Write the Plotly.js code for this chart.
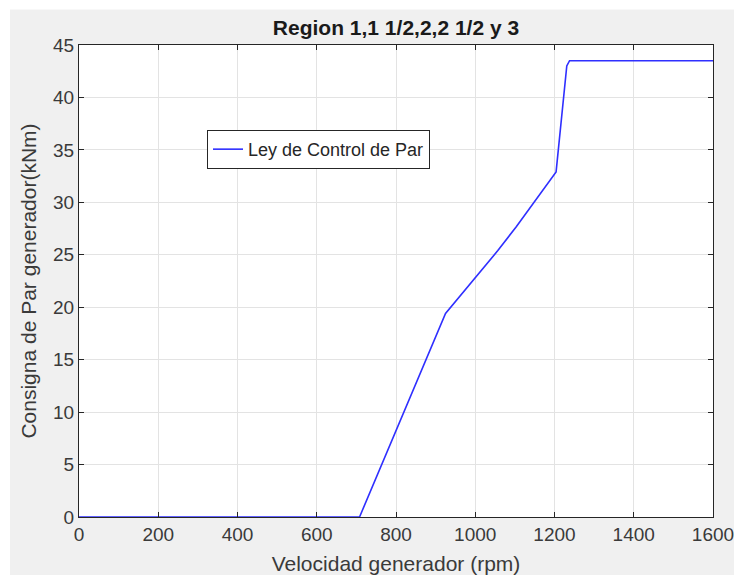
<!DOCTYPE html>
<html>
<head>
<meta charset="utf-8">
<script src="https://cdn.plot.ly/plotly-3.0.1.min.js"></script>
<style>
html,body{margin:0;padding:0;background:#ffffff;}
#chart{width:734px;height:575px;}
</style>
</head>
<body>
<div id="chart"></div>
<script>
// Data
var speedRpm = [0, 708, 925, 1000, 1057, 1104, 1152, 1204, 1231, 1238, 1600];
var torqueKNm = [0, 0, 19.4, 22.8, 25.4, 27.7, 30.2, 32.9, 43.0, 43.5, 43.5];
var seriesName = 'Ley de Control de Par';
var titleText = 'Region 1,1 1/2,2,2 1/2 y 3';
var xTitle = 'Velocidad generador (rpm)';
var yTitle = 'Consigna de Par generador(kNm)';

var FONT = '"Liberation Sans", Arial, Helvetica, sans-serif';
var AX = '#262626';

var trace = {
  x: speedRpm,
  y: torqueKNm,
  type: 'scatter',
  mode: 'lines',
  name: seriesName,
  line: {color: '#2f2fff', width: 1.6},
  showlegend: true
};

var axisCommon = {
  showline: true,
  linecolor: AX,
  linewidth: 1,
  mirror: 'ticks',
  ticks: 'inside',
  ticklen: 5,
  tickwidth: 1,
  tickcolor: AX,
  showgrid: true,
  gridcolor: '#e3e3e3',
  gridwidth: 1,
  zeroline: false,
  tickfont: {family: FONT, size: 19, color: '#3a3a3a'},
  ticklabeloverflow: 'allow',
  automargin: false
};

var layout = {
  width: 734,
  height: 575,
  margin: {l: 79, r: 21, t: 45, b: 58, pad: 0},
  paper_bgcolor: '#f0f0f0',
  plot_bgcolor: '#ffffff',
  font: {family: FONT, color: AX},
  title: {
    text: '<b>' + titleText + '</b>',
    font: {family: FONT, size: 21, color: '#1a1a1a'},
    x: 0.5, xref: 'paper', xanchor: 'center',
    y: 0.952, yref: 'container', yanchor: 'middle'
  },
  xaxis: Object.assign({}, axisCommon, {
    range: [0, 1600],
    tick0: 0, dtick: 200,
    title: {text: xTitle, font: {family: FONT, size: 21, color: '#3a3a3a'}, standoff: 13}
  }),
  yaxis: Object.assign({}, axisCommon, {
    range: [0, 45],
    tick0: 0, dtick: 5,
    title: {text: yTitle, font: {family: FONT, size: 21, color: '#3a3a3a'}, standoff: 10}
  }),
  legend: {
    x: 0.2019, y: 0.82, xanchor: 'left', yanchor: 'top',
    bgcolor: '#ffffff', bordercolor: AX, borderwidth: 1,
    font: {family: FONT, size: 18, color: '#262626'},
    itemwidth: 30
  },
  shapes: [
    {type: 'rect', xref: 'paper', yref: 'paper', x0: -0.2, x1: 1.1, y0: 1.0752, y1: 1.2,
     fillcolor: '#ffffff', line: {width: 0}, layer: 'below'},
    {type: 'rect', xref: 'paper', yref: 'paper', x0: -0.2, x1: -0.1088, y0: -0.2, y1: 1.2,
     fillcolor: '#ffffff', line: {width: 0}, layer: 'below'}
  ]
};

Plotly.newPlot('chart', [trace], layout, {displayModeBar: false, staticPlot: true});
</script>
</body>
</html>
